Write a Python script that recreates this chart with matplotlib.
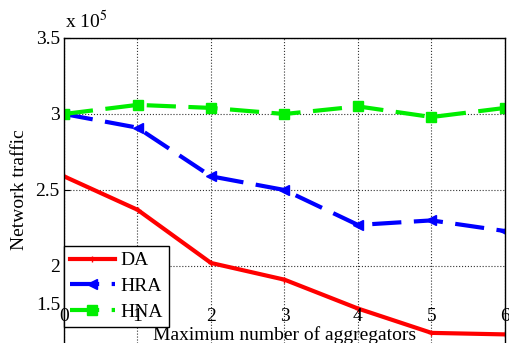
import matplotlib
matplotlib.use("Agg")
import matplotlib.pyplot as plt

plt.rcParams['font.family'] = ['Liberation Serif', 'DejaVu Serif']
plt.rcParams['mathtext.fontset'] = 'stix'

x = [0, 1, 2, 3, 4, 5, 6]
da = [2.59, 2.37, 2.02, 1.91, 1.72, 1.56, 1.55]
hra = [3.00, 2.91, 2.59, 2.50, 2.27, 2.30, 2.23]
hna = [3.00, 3.06, 3.04, 3.00, 3.05, 2.98, 3.04]
yticks = [2, 2.5, 3, 3.5]
ytick_labels = ['2', '2.5', '3', '3.5']

fig = plt.figure(figsize=(5.1, 3.43), dpi=100)
ax = fig.add_axes([64 / 510, 0.0, 441 / 510, 305 / 343])

ax.plot(x, da, color='#ff0000', lw=3.0, marker='+', ms=4, mew=1, label='DA')
ax.plot(x, hra, color='#0000ff', lw=3.0, ls='--', dashes=(7, 3),
        marker='<', ms=7, label='HRA')
ax.plot(x, hna, color='#00ee00', lw=3.0, ls='--', dashes=(7, 3),
        marker='s', ms=7, label='HNA')

ax.set_xlim(0, 6)
ax.set_ylim(3.5 - 305 / 152, 3.5)
ax.set_xticks(x)
ax.set_yticks(yticks)
ax.set_yticklabels(ytick_labels, fontsize=14)
ax.tick_params(axis='x', labelbottom=False, length=0)
ax.tick_params(axis='y', direction='in', length=4, pad=3)
ax.grid(True, color='#333333', ls=':', lw=0.8)
ax.spines['bottom'].set_visible(False)
for s in ['left', 'right', 'top']:
    ax.spines[s].set_linewidth(1.0)

# x tick labels sit inside the box, just above the visible bottom
for xi in x:
    ax.text(xi, 1.665, str(xi), ha='center', va='center', fontsize=14,
            zorder=10)
ax.text(-0.05, 1.74, '1.5', ha='right', va='center', fontsize=14)

fig.text(285 / 510, 1 - 335 / 343, 'Maximum number of aggregators',
         ha='center', va='center', fontsize=14)
fig.text(20 / 510, 1 - 190 / 343, 'Network traffic', rotation=90,
         ha='center', va='center', fontsize=14)
fig.text(65 / 510, 1 - 21 / 343, r'x 10$^5$', ha='left', va='center',
         fontsize=14)

leg = ax.legend(loc='upper left', bbox_to_anchor=(64 / 510, 1 - 246 / 343),
                bbox_transform=fig.transFigure, fontsize=14, fancybox=False,
                edgecolor='black', framealpha=1, handlelength=2.3,
                borderpad=0.3, labelspacing=0.42, handletextpad=0.3,
                borderaxespad=0)
leg.get_frame().set_linewidth(1.0)
leg.set_zorder(5)

fig.savefig('out.png', dpi=100)
